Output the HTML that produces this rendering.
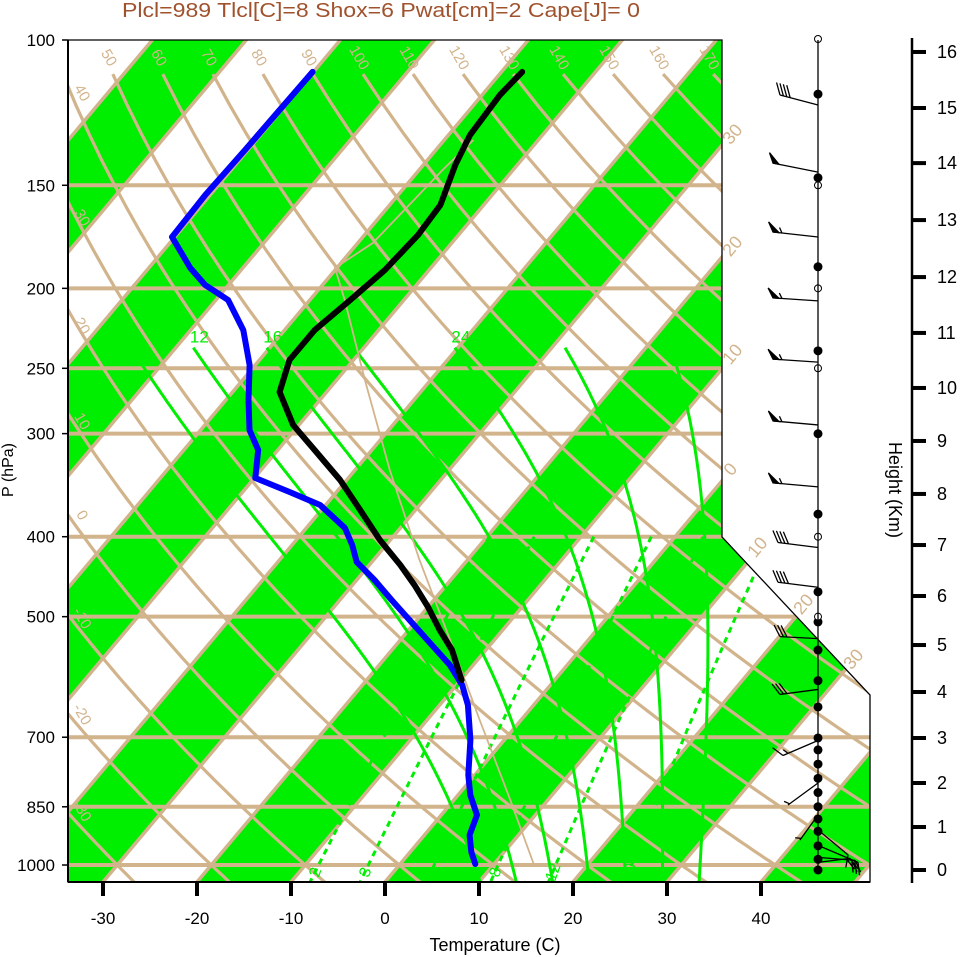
<!DOCTYPE html>
<html><head><meta charset="utf-8"><style>
html,body{margin:0;padding:0;background:#fff;}
svg{display:block;font-family:"Liberation Sans",Arial,sans-serif;}
</style></head><body>
<svg id="chart" width="961" height="957" viewBox="0 0 961 957" xmlns="http://www.w3.org/2000/svg">
<defs><clipPath id="plotclip"><polygon points="68,40 722,40 722,537 870,695 870,882 68,882"/></clipPath></defs>
<text x="122" y="17" textLength="518" lengthAdjust="spacingAndGlyphs" font-size="20" fill="#a0522d">Plcl=989 Tlcl[C]=8 Shox=6 Pwat[cm]=2 Cape[J]= 0</text>
<g id="bg" clip-path="url(#plotclip)"></g>
<g id="fg"></g>
<polyline points="68,40 722,40 722,537 870,695 870,882 68,882 68,40" fill="none" stroke="#000" stroke-width="1.3"/>
<line x1="68" y1="40" x2="68" y2="882" stroke="#000" stroke-width="2"/>
<line x1="68" y1="882" x2="870" y2="882" stroke="#000" stroke-width="2"/>
<text transform="translate(13,470) rotate(-90)" text-anchor="middle" font-size="16">P (hPa)</text>
<text x="495" y="951" text-anchor="middle" font-size="18">Temperature (C)</text>
<text transform="translate(889,490) rotate(90)" text-anchor="middle" font-size="18">Height (Km)</text>
<line x1="912" y1="38" x2="912" y2="883" stroke="#000" stroke-width="2.5"/>
<line x1="818" y1="40" x2="818" y2="870" stroke="#000" stroke-width="1.3"/>
</svg>
<script>
const pressureTicks=[100,150,200,250,300,400,500,700,850,1000];
const isobarLevels=[150,200,250,300,400,500,700,850,1000];
const tempTicks=[-30,-20,-10,0,10,20,30,40];
const heightTicks=[0,1,2,3,4,5,6,7,8,9,10,11,12,13,14,15,16];
const heightTickPressures=[1014,899.3,795.4,701.5,617.0,541.2,472.0,409.4,355.0,306.2,264.1,226.5,193.8,165.3,141.0,120.9,103.4];
const thetaLines=[-40,-30,-20,-10,0,10,20,30,40,50,60,70,80,90,100,110,120,130,140,150,160,170];
const thetaWLines=[8,12,16,20,24,28,32];
const thetaWLabels=[12,16,24,32];
const mixRatios=[2,3,5,8,12,20];
const tempPres=[109.3,116.6,130.4,141.7,158.5,172.3,190.0,206.6,224.7,244.3,267.1,292.9,314.0,341.4,371.2,403.7,432.9,457.8,486.7,519.0,548.8,596.7,639.8,705.5,777.8,822.5,869.7,919.6,964.3,997.2];
const tempVals=[-57.8,-58.1,-57.7,-56.6,-54.6,-54.3,-54.7,-55.7,-56.8,-56.8,-55.0,-50.6,-46.1,-40.7,-35.9,-31.1,-26.7,-23.4,-20.0,-16.7,-13.6,-9.9,-7.0,-3.6,-0.7,1.3,3.8,4.8,6.5,8.0];
const dewPres=[109.3,121.6,135.9,154.1,173.3,188.9,198.1,206.6,224.7,247.7,273.1,297.0,314.0,339.5,353.1,366.1,390.4,409.4,429.3,451.4,477.3,504.7,541.2,572.2,605.0,639.8,705.5,777.8,822.5,869.7,919.6,964.3,997.2];
const dewVals=[-80.1,-80.2,-80.3,-80.5,-80.3,-75.6,-72.5,-68.7,-64.4,-60.6,-57.6,-54.8,-52.1,-49.9,-45.0,-40.6,-35.9,-33.6,-31.6,-28.1,-24.5,-20.8,-16.2,-12.5,-9.4,-7.0,-3.6,-0.7,1.3,3.8,4.8,6.5,8.0];
const parcelPres=[132.2,143.7,176.2,188.9,206.6,258.3,332.1,426.9,533.7,667.2,834.1,1005.6];
const parcelVals=[-56.9,-57.5,-58.4,-60.2,-56.3,-47.0,-36.3,-25.1,-14.7,-4.4,6.0,14.6];
const barbPres=[119.9,144.6,173.3,207.1,245.7,292.8,348.1,412.2,460.6,531.6,612.6,706.5,795.4,869.7,906.6,946.6,978.8,992.7];
const barbDx=[-38,-45,-45,-45,-45,-45,-45,-40,-40,-38,-38,-35,-30,-18,30,40,37,32];
const barbDy=[-10,-9,-5,-3,-3,-4,-4,-5,-5,-2,5,15,22,25,25,17,3,-4];
const barbFull=[4,0,0,0,0,0,0,4,4,3,3,1,0,0,1,3,2,2];
const barbHalf=[0,0,1,1,1,1,1,0,0,0,0,1,1,1,0,0,0,0];
const barbFlag=[0,1,1,1,1,1,1,0,0,0,0,0,0,0,0,0,0,0];
const dotPres=[116.3,146.9,188.3,238.1,300.1,375.5,466.5,507.4,548.8,597.8,643.3,701.5,725.2,754.5,785.1,816.9,849.8,879.4,910.1,947.9,984.2,1014];
const openPres=[100,150,200,250,400,500];

const NS='http://www.w3.org/2000/svg';
const bg=document.getElementById('bg');
const fg=document.getElementById('fg');
const TAN='#d2b48c', GREEN='#00ee00';
function Y(p){return 40+358.3*Math.log(p/100);}
function X(T,p){return 385+9.4*T+0.84*(882-Y(p));}
function el(tag,attrs,parent){const e=document.createElementNS(NS,tag);for(const k in attrs)e.setAttribute(k,attrs[k]);parent.appendChild(e);return e;}
function pts(arr){return arr.map(a=>a[0].toFixed(1)+','+a[1].toFixed(1)).join(' ');}

for(let a=-180;a<=60;a+=20){
  const poly=el('polygon',{points:pts([[X(a,1060),Y(1060)],[X(a+10,1060),Y(1060)],[X(a+10,95),Y(95)],[X(a,95),Y(95)]]),fill:GREEN},bg);
  
  
}
for(let t=-190;t<=70;t+=10){
  const l=el('line',{x1:X(t,1060),y1:Y(1060),x2:X(t,95),y2:Y(95),stroke:TAN,'stroke-width':3.5},bg);
  
  
}
isobarLevels.forEach(p=>{
  const l=el('line',{x1:60,y1:Y(p),x2:880,y2:Y(p),stroke:TAN,'stroke-width':4},bg);
  
  
});
thetaLines.forEach(th=>{
  const a=[];
  for(let p=110;p<=1060;p+=10){a.push([X((th+273.15)*Math.pow(p/1000,0.2857)-273.15,p),Y(p)]);}
  const l=el('polyline',{points:pts(a),fill:'none',stroke:TAN,'stroke-width':3.2},bg);
  
  
  let lx,ly;
  if(th>=50){lx=a[0][0]-8;ly=a[0][1]-14;}
  else{
    let best=null;
    for(const q of a){if(q[0]>=76){best=q;break;}}
    if(!best)return;
    lx=78;ly=best[1]-10;
  }
  const t=el('text',{x:0,y:0,transform:`translate(${lx.toFixed(1)},${ly.toFixed(1)}) rotate(60)`,'font-size':15,fill:TAN,'text-anchor':'middle'},bg);
  
  
  t.textContent=String(th);
});
function es(T){return 6.112*Math.exp(17.67*T/(T+243.5));}
function rs(T,p){const e=es(T);return 0.622*e/(p-e);}
function dTdp(T,p){const Tk=T+273.15,r=rs(T,p);return (287*Tk+2.5e6*r)/(p*(1005+2.5e6*2.5e6*r*0.622/(287*Tk*Tk)));}
thetaWLines.forEach(tw=>{
  const up=[],down=[];
  let T=tw;for(let p=1000;p>=236;p-=2){up.push([X(T,p),Y(p)]);T-=2*dTdp(T,p);}
  T=tw;for(let p=1000;p<=1060;p+=2){down.push([X(T,p),Y(p)]);T+=2*dTdp(T,p);}
  const a=up.reverse().concat(down);
  const l=el('polyline',{points:pts(a),fill:'none',stroke:GREEN,'stroke-width':3},bg);
  
  
  if(thetaWLabels.includes(tw)){
    const t=el('text',{x:a[0][0]+6,y:a[0][1]-5,'font-size':17,fill:GREEN,'text-anchor':'middle'},fg);
    
    
    t.textContent=String(tw);
  }
});
function tdFromW(w,p){const e=w*p/(622+w);const L=Math.log(e/6.112);return 243.5*L/(17.67-L);}
mixRatios.forEach(w=>{
  const a=[];for(let p=400;p<=1060;p+=10)a.push([X(tdFromW(w,p),p),Y(p)]);
  const l=el('polyline',{points:pts(a),fill:'none',stroke:GREEN,'stroke-width':3,'stroke-dasharray':'6,5'},bg);
  
  
  const xb=X(tdFromW(w,1025),1025);
  const t=el('text',{x:0,y:0,transform:`translate(${(xb+6).toFixed(1)},${(Y(1025)).toFixed(1)}) rotate(-70)`,'font-size':16,fill:GREEN,'text-anchor':'middle'},bg);
  
  
  t.textContent=String(w);
});
{
  const l=el('polyline',{points:pts(parcelPres.map((p,i)=>[X(parcelVals[i],p),Y(p)])),fill:'none',stroke:TAN,'stroke-width':1.8},bg);
  
  
}
[[-30,737,138],[-20,737,250],[-10,737,358],[0,735,473],[10,762,551],[20,808,608],[30,858,663]].forEach(d=>{
  const t=el('text',{x:0,y:0,transform:`translate(${d[1]},${d[2]}) rotate(-50)`,'font-size':18,fill:TAN,'text-anchor':'middle'},fg);
  
  
  t.textContent=String(Math.abs(d[0]));
});
{
  const d=el('polyline',{points:pts(dewPres.map((p,i)=>[X(dewVals[i],p),Y(p)])),fill:'none',stroke:'#0000ff','stroke-width':6,'stroke-linejoin':'round','stroke-linecap':'round'},fg);
  
  
  const t=el('polyline',{points:pts(tempPres.map((p,i)=>[X(tempVals[i],p),Y(p)]).filter(q=>q[1]<690)),fill:'none',stroke:'#000','stroke-width':6,'stroke-linejoin':'round','stroke-linecap':'round'},fg);
  
  
}
pressureTicks.forEach(p=>{
  const l=el('line',{x1:62,y1:Y(p),x2:68,y2:Y(p),stroke:'#000','stroke-width':1.5},fg);
  
  
  const t=el('text',{x:55,y:Y(p)+6,'font-size':17,'text-anchor':'end'},fg);
  
  
  t.textContent=String(p);
});
tempTicks.forEach(T=>{
  const x=385+9.4*T;
  const l=el('line',{x1:x,y1:882,x2:x,y2:896,stroke:'#000','stroke-width':4},fg);
  
  
  const t=el('text',{x:x,y:924,'font-size':17,'text-anchor':'middle'},fg);
  
  
  t.textContent=String(T);
});
heightTicks.forEach((h,i)=>{
  const y=Y(heightTickPressures[i]);
  const l=el('line',{x1:911,y1:y,x2:926,y2:y,stroke:'#000','stroke-width':4},fg);
  
  
  const t=el('text',{x:937,y:y+6,'font-size':18},fg);
  
  
  t.textContent=String(h);
});
dotPres.forEach(p=>{
  const c=el('circle',{cx:818,cy:Y(p),r:4.5,fill:'#000'},fg);
  
  
});
openPres.forEach(p=>{
  const c=el('circle',{cx:818,cy:Y(p)+(p===100?-1:0),r:3.5,fill:'#fff',stroke:'#000','stroke-width':1},fg);
  
  
});
barbPres.forEach((p,i)=>{
  const bx=818,by=Y(p),ex=bx+barbDx[i],ey=by+barbDy[i];
  const g=el('g',{stroke:'#000','stroke-width':1.3,fill:'#000'},fg);
  
  
  el('line',{x1:bx,y1:by,x2:ex,y2:ey},g);
  const len=Math.hypot(barbDx[i],barbDy[i]),ux=barbDx[i]/len,uy=barbDy[i]/len;
  const c=Math.cos(Math.PI/3),s=Math.sin(Math.PI/3);
  const fx=ux*c-uy*s,fy=ux*s+uy*c;
  let pos=0;
  for(let k=0;k<barbFlag[i];k++){
    const x0=ex-ux*pos,y0=ey-uy*pos;
    el('polygon',{points:pts([[x0,y0],[x0-ux*6,y0-uy*6],[x0+fx*11,y0+fy*11]])},g);pos+=7;
  }
  for(let k=0;k<barbFull[i];k++){
    const x0=ex-ux*pos,y0=ey-uy*pos;
    el('line',{x1:x0,y1:y0,x2:x0+fx*13,y2:y0+fy*13},g);pos+=3.5;
  }
  for(let k=0;k<barbHalf[i];k++){
    const x0=ex-ux*(pos+2),y0=ey-uy*(pos+2);
    el('line',{x1:x0,y1:y0,x2:x0+fx*6,y2:y0+fy*6},g);pos+=3.5;
  }
});
</script>
</body></html>
